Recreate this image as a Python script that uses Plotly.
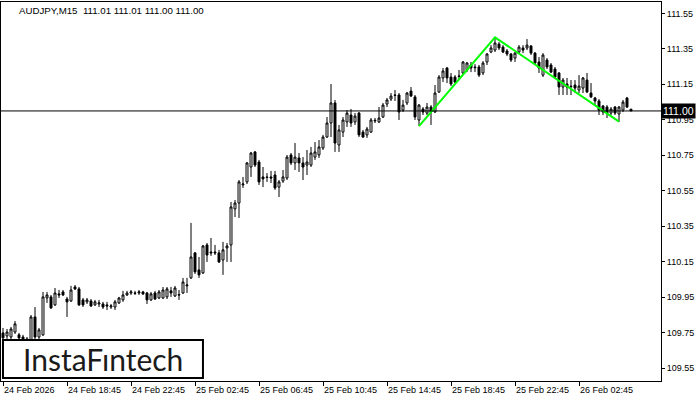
import plotly.graph_objects as go

symbol_title = "AUDJPY,M15  111.01 111.01 111.00 111.00"
current_price = 111.00
current_label = "111.00"

opens = [
109.749, 109.732, 109.726, 109.754, 109.738, 109.726, 109.715, 109.709, 109.839, 109.726,
109.738, 109.946, 109.952, 109.907, 109.969, 109.980, 109.940, 109.929, 110.008, 109.997,
109.935, 109.924, 109.929, 109.907, 109.912, 109.912, 109.907, 109.895, 109.895, 109.918,
109.935, 109.963, 109.974, 109.974, 109.974, 109.980, 109.974, 109.935, 109.974, 109.946,
109.946, 109.952, 109.986, 109.957, 109.965, 109.974, 110.014, 110.059, 110.200, 110.104,
110.087, 110.245, 110.205, 110.205, 110.200, 110.160, 110.228, 110.245, 110.448, 110.481,
110.583, 110.600, 110.684, 110.769, 110.712, 110.628, 110.628, 110.628, 110.639, 110.571,
110.605, 110.622, 110.752, 110.707, 110.735, 110.707, 110.695, 110.695, 110.740, 110.752,
110.791, 110.853, 110.932, 111.045, 110.808, 110.881, 110.938, 110.977, 110.938, 110.988,
110.881, 110.865, 110.881, 110.943, 110.938, 110.966, 111.039, 111.067, 111.090, 111.090,
111.005, 111.045, 111.112, 111.079, 110.949, 111.011, 110.988, 111.022, 110.994, 111.107,
111.186, 111.242, 111.191, 111.191, 111.197, 111.214, 111.231, 111.259, 111.248, 111.248,
111.214, 111.276, 111.332, 111.343, 111.377, 111.360, 111.338, 111.321, 111.298, 111.332,
111.355, 111.355, 111.366, 111.326, 111.276, 111.202, 111.287, 111.259, 111.236, 111.214,
111.135, 111.152, 111.140, 111.146, 111.118, 111.129, 111.174, 111.101, 111.073, 111.056,
111.028, 111.022, 110.988, 111.022, 110.983, 111.005, 111.073, 111.010]

highs = [
109.777, 109.771, 109.783, 109.816, 109.749, 109.738, 109.726, 109.850, 109.895, 109.777,
109.980, 109.980, 109.963, 110.002, 109.991, 109.991, 109.952, 110.014, 110.019, 110.008,
109.946, 109.946, 109.940, 109.935, 109.935, 109.924, 109.924, 109.912, 109.935, 109.952,
109.986, 109.986, 109.991, 109.986, 109.991, 109.986, 109.980, 109.980, 109.986, 109.991,
110.008, 110.008, 110.008, 110.014, 109.991, 110.059, 110.059, 110.369, 110.205, 110.177,
110.245, 110.256, 110.284, 110.245, 110.217, 110.262, 110.256, 110.487, 110.498, 110.611,
110.628, 110.712, 110.769, 110.774, 110.724, 110.684, 110.650, 110.662, 110.662, 110.611,
110.667, 110.752, 110.763, 110.819, 110.763, 110.740, 110.780, 110.797, 110.825, 110.836,
110.865, 110.966, 111.152, 111.062, 110.921, 110.966, 111.005, 111.011, 110.988, 110.994,
110.893, 110.910, 110.960, 110.960, 111.022, 111.045, 111.073, 111.101, 111.118, 111.101,
111.062, 111.107, 111.135, 111.090, 111.039, 111.022, 111.045, 111.033, 111.146, 111.202,
111.242, 111.248, 111.214, 111.202, 111.231, 111.281, 111.276, 111.276, 111.264, 111.259,
111.281, 111.326, 111.371, 111.411, 111.388, 111.371, 111.349, 111.326, 111.332, 111.371,
111.371, 111.405, 111.371, 111.332, 111.304, 111.326, 111.298, 111.270, 111.248, 111.219,
111.186, 111.186, 111.174, 111.174, 111.202, 111.191, 111.214, 111.157, 111.079, 111.067,
111.033, 111.033, 111.022, 111.028, 111.028, 111.062, 111.079, 111.010]

lows = [
109.709, 109.715, 109.709, 109.743, 109.709, 109.704, 109.693, 109.698, 109.704, 109.715,
109.732, 109.918, 109.884, 109.901, 109.946, 109.957, 109.839, 109.924, 109.991, 109.901,
109.895, 109.912, 109.895, 109.901, 109.895, 109.884, 109.878, 109.884, 109.878, 109.912,
109.924, 109.957, 109.963, 109.963, 109.963, 109.963, 109.912, 109.929, 109.935, 109.940,
109.940, 109.940, 109.952, 109.952, 109.935, 109.969, 109.974, 110.053, 110.081, 110.059,
110.081, 110.149, 110.183, 110.188, 110.143, 110.076, 110.149, 110.149, 110.402, 110.397,
110.566, 110.588, 110.628, 110.684, 110.583, 110.571, 110.600, 110.594, 110.555, 110.515,
110.594, 110.611, 110.695, 110.667, 110.656, 110.611, 110.639, 110.684, 110.724, 110.735,
110.780, 110.848, 110.853, 110.769, 110.769, 110.853, 110.910, 110.910, 110.921, 110.853,
110.848, 110.848, 110.876, 110.932, 110.932, 110.960, 111.022, 111.056, 111.056, 110.949,
110.994, 111.033, 111.079, 110.949, 110.915, 110.977, 110.977, 110.921, 110.988, 111.101,
111.163, 111.157, 111.140, 111.157, 111.174, 111.202, 111.219, 111.219, 111.219, 111.191,
111.202, 111.259, 111.326, 111.332, 111.343, 111.326, 111.309, 111.276, 111.276, 111.326,
111.326, 111.343, 111.315, 111.259, 111.214, 111.191, 111.236, 111.214, 111.180, 111.090,
111.090, 111.090, 111.090, 111.101, 111.101, 111.101, 111.101, 111.073, 111.033, 110.977,
110.977, 110.960, 110.977, 110.977, 110.938, 110.994, 111.017, 111.000]

closes = [
109.721, 109.754, 109.771, 109.800, 109.721, 109.715, 109.704, 109.839, 109.726, 109.766,
109.952, 109.963, 109.890, 109.974, 109.963, 109.963, 109.924, 109.991, 109.997, 109.907,
109.907, 109.935, 109.901, 109.924, 109.918, 109.895, 109.901, 109.901, 109.924, 109.946,
109.963, 109.974, 109.980, 109.972, 109.980, 109.969, 109.935, 109.969, 109.940, 109.980,
109.991, 109.997, 109.974, 110.002, 109.963, 110.036, 110.019, 110.177, 110.093, 110.076,
110.239, 110.188, 110.200, 110.200, 110.149, 110.217, 110.239, 110.459, 110.481, 110.600,
110.588, 110.707, 110.763, 110.695, 110.600, 110.617, 110.625, 110.622, 110.566, 110.600,
110.628, 110.740, 110.707, 110.740, 110.707, 110.684, 110.712, 110.763, 110.769, 110.797,
110.853, 110.932, 111.045, 110.819, 110.893, 110.949, 110.988, 110.932, 110.971, 110.865,
110.853, 110.898, 110.949, 110.947, 110.960, 111.033, 111.062, 111.084, 111.088, 110.994,
111.033, 111.101, 111.084, 110.966, 111.033, 110.994, 111.022, 110.994, 111.101, 111.191,
111.225, 111.186, 111.152, 111.163, 111.195, 111.276, 111.270, 111.242, 111.244, 111.202,
111.270, 111.321, 111.355, 111.383, 111.355, 111.332, 111.321, 111.287, 111.326, 111.360,
111.343, 111.371, 111.326, 111.270, 111.242, 111.315, 111.248, 111.219, 111.191, 111.135,
111.174, 111.135, 111.137, 111.129, 111.140, 111.186, 111.107, 111.079, 111.056, 111.005,
110.994, 110.988, 111.011, 110.988, 111.022, 111.050, 111.022, 111.000]

bar_index = list(range(len(opens)))

time_tick_bars = [0, 16, 32, 48, 64, 80, 96, 112, 128, 144]
time_tick_labels = ["24 Feb 2026", "24 Feb 18:45", "24 Feb 22:45", "25 Feb 02:45",
                    "25 Feb 06:45", "25 Feb 10:45", "25 Feb 14:45", "25 Feb 18:45",
                    "25 Feb 22:45", "26 Feb 02:45"]

price_ticks = [109.55, 109.75, 109.95, 110.15, 110.35, 110.55, 110.75, 110.95, 111.15, 111.35, 111.55]
price_tick_labels = ["109.55", "109.75", "109.95", "110.15", "110.35", "110.55",
                     "110.75", "110.95", "111.15", "111.35", "111.55"]

pattern_bars = [104, 123, 154]
pattern_prices = [110.915, 111.415, 110.940]

logo_text = "InstaF\u0131ntech"

FONT = "Liberation Sans"

fig = go.Figure()
fig.add_trace(go.Candlestick(
    x=bar_index, open=opens, high=highs, low=lows, close=closes,
    increasing=dict(fillcolor="white", line=dict(color="black", width=1)),
    decreasing=dict(fillcolor="black", line=dict(color="black", width=1)),
    whiskerwidth=0, hoverinfo="skip", showlegend=False,
))
fig.add_trace(go.Scatter(
    x=pattern_bars, y=pattern_prices, mode="lines",
    line=dict(color="#00ff00", width=2), hoverinfo="skip", showlegend=False,
))

fig.add_shape(type="line", xref="paper", x0=0, x1=1, yref="y",
              y0=current_price, y1=current_price, line=dict(color="black", width=1))

# logo box
fig.add_shape(type="rect", xref="paper", yref="paper", x0=0.003, x1=0.306, y0=0.008, y1=0.108,
              fillcolor="white", line=dict(color="black", width=2), layer="above")
fig.add_annotation(xref="paper", yref="paper", x=0.1545, y=0.059, text=logo_text,
                   showarrow=False, font=dict(family="Lato", size=30, color="#1a1a1a"),
                   xanchor="center", yanchor="middle")

fig.add_annotation(xref="paper", yref="paper", x=0.024, y=0.977, text=symbol_title,
                   showarrow=False, font=dict(family=FONT, size=9.7, color="black"),
                   xanchor="left", yanchor="middle")

fig.add_annotation(xref="paper", yref="y", x=1.0, y=current_price, text=current_label,
                   showarrow=False, font=dict(family=FONT, size=10.5, color="white"),
                   bgcolor="black", xanchor="left", yanchor="middle",
                   borderpad=1, xshift=0)

fig.update_layout(
    width=700, height=400,
    margin=dict(l=1, r=39, t=2, b=19),
    paper_bgcolor="white", plot_bgcolor="white",
    font=dict(family=FONT, size=9, color="black"),
    xaxis=dict(
        range=[-0.5, 164.5], rangeslider=dict(visible=False),
        tickvals=time_tick_bars, ticktext=time_tick_labels,
        ticks="outside", ticklen=4, tickcolor="black", ticklabelposition="outside right",
        showgrid=False, zeroline=False, showline=True, linecolor="black", linewidth=1,
        mirror=True, tickfont=dict(family=FONT, size=9, color="black"),
    ),
    yaxis=dict(
        range=[109.478, 111.614], side="right",
        tickvals=price_ticks, ticktext=price_tick_labels,
        ticks="outside", ticklen=3, tickcolor="black",
        showgrid=False, zeroline=False, showline=True, linecolor="black", linewidth=1,
        mirror=True, tickfont=dict(family=FONT, size=9, color="black"),
    ),
)

fig.write_html("out.html", config={"displayModeBar": False},
               post_script="document.body.style.margin='0';document.body.style.overflow='hidden';")
